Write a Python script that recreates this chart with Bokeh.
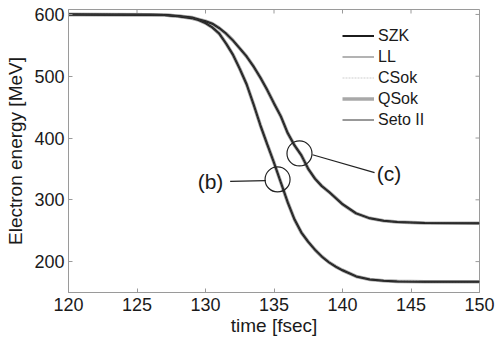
import math
from bokeh.plotting import figure
from bokeh.models import Range1d, Legend, LegendItem, FixedTicker
from bokeh.core.properties import value
from bokeh.embed import file_html
from bokeh.resources import INLINE

# time axis [fsec]
t = [120, 126, 127, 128, 129, 129.5, 130, 130.5, 131, 131.5, 132, 132.5, 133, 133.5,
     134, 134.5, 135, 135.5, 136, 136.5, 137, 137.5, 138, 138.5, 139, 139.5, 140,
     141, 142, 143, 144, 146, 150]
# curve (b): lower final energy [MeV]
energy_b = [600, 599.5, 599, 597, 594, 591, 586, 579, 569, 553, 535, 512, 487, 455,
            421, 390, 360, 328, 296, 268, 247, 232, 219, 208, 199, 192, 186,
            176, 171, 169, 168, 167.5, 167.5]
# curve (c): higher final energy [MeV]
energy_c = [600, 599.5, 599, 597.5, 595, 592, 589, 585, 578, 569, 558, 545, 532, 516,
            498, 478, 456, 435, 408, 388, 372, 350, 334, 322, 313, 303, 293,
            278, 270, 266, 264, 262.5, 262]

methods = ["SZK", "LL", "CSok", "QSok", "Seto II"]
x_ticks = [120, 125, 130, 135, 140, 145, 150]
y_ticks = [200, 300, 400, 500, 600]

FONT = "Liberation Sans"
AXC = "#9a9a9a"
TXT = "#1a1a1a"

p = figure(width=497, height=340, output_backend="svg", toolbar_location=None,
           x_range=Range1d(120, 150), y_range=Range1d(150, 608),
           min_border_left=68, min_border_right=18, min_border_top=9,
           min_border_bottom=48)
p.xgrid.visible = False
p.ygrid.visible = False
p.outline_line_color = AXC
p.background_fill_color = "white"
p.border_fill_color = "white"

for ax in (p.xaxis[0], p.yaxis[0]):
    ax.axis_line_color = AXC
    ax.major_tick_line_color = AXC
    ax.major_tick_in = 4
    ax.major_tick_out = 0
    ax.minor_tick_line_color = None
    ax.major_label_text_font = FONT
    ax.major_label_text_font_size = "18px"
    ax.major_label_text_color = TXT
    ax.axis_label_text_font = FONT
    ax.axis_label_text_font_size = "19px"
    ax.axis_label_text_font_style = "normal"
    ax.axis_label_text_color = TXT

p.xaxis[0].ticker = FixedTicker(ticks=x_ticks)
p.yaxis[0].ticker = FixedTicker(ticks=y_ticks)
p.xaxis[0].axis_label = "time [fsec]"
p.yaxis[0].axis_label = "Electron energy [MeV]"
p.xaxis[0].major_label_standoff = 5
p.yaxis[0].major_label_standoff = 4
p.xaxis[0].axis_label_standoff = 1
p.yaxis[0].axis_label_standoff = 5

# inward ticks on the top and right edges of the box
p.scatter(x_ticks, [608] * len(x_ticks), marker="dash", angle=math.pi / 2,
          size=8, line_color=AXC, line_width=1)
p.scatter([150] * len(y_ticks), y_ticks, marker="dash", size=8,
          line_color=AXC, line_width=1)

# styles per method: (color, width, dash)
styles = {
    "QSok": ("#a8a8a8", 3.6, "solid"),
    "CSok": ("#dedede", 1.5, "2 1"),
    "LL": ("#9a9a9a", 1.5, "solid"),
    "SZK": ("#1c1c1c", 2.0, "solid"),
    "Seto II": ("#333333", 1.0, "solid"),
}
renderers = {}
for m in ["QSok", "CSok", "LL", "SZK", "Seto II"]:
    col, w, dash = styles[m]
    r1 = p.line(t, energy_b, line_color=col, line_width=w, line_dash=dash)
    p.line(t, energy_c, line_color=col, line_width=w, line_dash=dash)
    renderers[m] = r1

items = [LegendItem(label=m, renderers=[renderers[m]]) for m in methods]
legend = Legend(items=items, location=(274, 162), border_line_color=None,
                background_fill_alpha=0, padding=0, margin=0, spacing=0,
                glyph_width=32, glyph_height=21, label_height=21,
                label_standoff=4, label_text_font=FONT,
                label_text_font_size="16px", label_text_color=TXT)
p.add_layout(legend, "center")

# annotations
p.scatter([135.26, 136.86], [333, 375], marker="circle", size=25,
          fill_color=None, line_color="#222222", line_width=1.2)
p.line([131.8, 134.4], [330, 331], line_color="#222222", line_width=1.2)
p.line([137.81, 142.34], [373, 344], line_color="#222222", line_width=1.2)
p.text([131.3], [329], text=["(b)"], text_align="right", text_baseline="middle",
       text_font=value(FONT), text_font_size="21px", text_color=TXT)
p.text([142.5], [342], text=["(c)"], text_align="left", text_baseline="middle",
       text_font=value(FONT), text_font_size="21px", text_color=TXT)

open("out.html", "w").write(file_html(p, INLINE))
